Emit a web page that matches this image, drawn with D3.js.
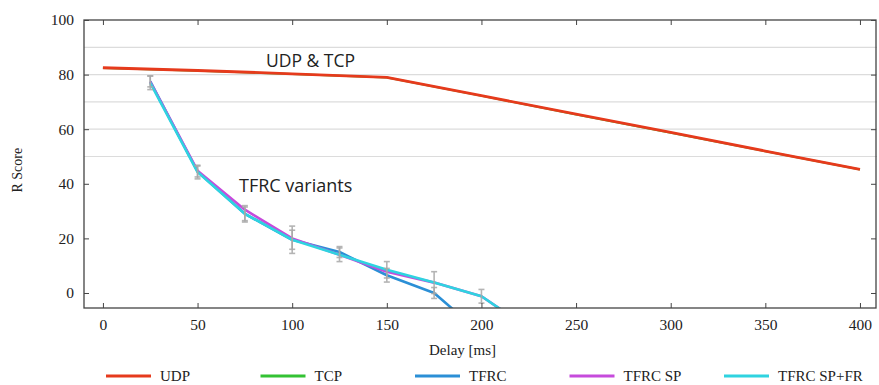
<!DOCTYPE html>
<head>
  <meta charset="utf-8">
  <script src="https://cdn.jsdelivr.net/npm/d3@7"></script>
  <style>
    body { margin: 0; background: #fff; }
    text { font-family: "Liberation Serif", serif; fill: #222; }
  </style>
</head>
<body>
  <script>
    // data
    var udpDelay = [0, 50, 100, 150, 200, 250, 300, 350, 400];
    var udp = [82.5, 81.5, 80.3, 79, 72.3, 65.5, 58.8, 52, 45.3];
    var tcp = [82.4, 81.4, 80.2, 78.9, 72.2, 65.4, 58.7, 51.9, 45.2];

    var tfrcDelay = [25, 50, 75, 100, 125, 150, 175, 200, 225];
    var tfrc = [77.5, 44.5, 29, 19.5, 15, 6.5, 0, -15];
    var tfrcSp = [77.3, 44.8, 30.5, 20, 14, 7.8, 3.8, -1.2, -13];
    var tfrcSpFr = [77, 44.3, 29, 19.5, 14, 8.5, 3.8, -1.2, -13];

    // error bar half widths
    var errSpFr = [2.5, 2.5, 3, 5, 2.5, 3, 4, 2.5];
    var errTfrc = [2, 2, 2.5, 3.5, 2, 2.5, 2];

    var xTicks = [0, 50, 100, 150, 200, 250, 300, 350, 400];
    var yTicks = [0, 20, 40, 60, 80, 100];
    var yGrid = [50, 60, 70, 80, 90];

    var names = ["UDP", "TCP", "TFRC", "TFRC SP", "TFRC SP+FR"];
    var colors = ["#e63a1c", "#33c233", "#2b8fd6", "#c64bdc", "#2fd3e0"];

    var width = 879, height = 385;
    var margin = {top: 20, right: 2, bottom: 77, left: 84};

    var svg = d3.select("body").append("svg")
      .attr("width", width)
      .attr("height", height);

    var x = d3.scaleLinear()
              .domain([-10, 409])
              .range([margin.left, width - margin.right]);

    var y = d3.scaleLinear()
              .domain([-5.5, 100])
              .range([height - margin.bottom, margin.top]);

    svg.append("clipPath").attr("id", "plot")
      .append("rect")
        .attr("x", margin.left).attr("y", margin.top)
        .attr("width", width - margin.right - margin.left)
        .attr("height", height - margin.bottom - margin.top);

    // grid
    svg.selectAll(".grid").data(yGrid)
      .enter().append("line")
        .attr("x1", margin.left).attr("x2", width - margin.right)
        .attr("y1", y).attr("y2", y)
        .attr("stroke", "#dcdcdc").attr("stroke-width", 1.2);

    var plot = svg.append("g").attr("clip-path", "url(#plot)");

    function series(xs, ys) {
      return ys.map(function(v, i) { return [xs[i], v]; });
    }
    var line = d3.line().x(function(d) { return x(d[0]); }).y(function(d) { return y(d[1]); });

    var lines = [
      {d: series(udpDelay, tcp), c: colors[1], w: 2},
      {d: series(udpDelay, udp), c: colors[0], w: 2.8},
      {d: series(tfrcDelay, tfrc), c: colors[2], w: 2.6},
      {d: series(tfrcDelay, tfrcSp), c: colors[3], w: 2.6},
      {d: series(tfrcDelay, tfrcSpFr), c: colors[4], w: 2.6}
    ];

    plot.selectAll(".series").data(lines)
      .enter().append("path")
        .attr("d", function(s) { return line(s.d); })
        .attr("fill", "none")
        .attr("stroke", function(s) { return s.c; })
        .attr("stroke-width", function(s) { return s.w; })
        .attr("stroke-linejoin", "round");

    // error bars
    function errorBars(vals, errs, off) {
      var g = plot.append("g").attr("stroke", "#a8a8a8").attr("stroke-width", 1.6).attr("opacity", 0.85);
      errs.forEach(function(e, i) {
        var cx = x(tfrcDelay[i]) + off;
        g.append("line").attr("x1", cx).attr("x2", cx).attr("y1", y(vals[i] - e)).attr("y2", y(vals[i] + e));
        g.append("line").attr("x1", cx - 3).attr("x2", cx + 3).attr("y1", y(vals[i] - e)).attr("y2", y(vals[i] - e));
        g.append("line").attr("x1", cx - 3).attr("x2", cx + 3).attr("y1", y(vals[i] + e)).attr("y2", y(vals[i] + e));
      });
    }
    errorBars(tfrcSpFr, errSpFr, 0);
    errorBars(tfrc, errTfrc, 0);

    // frame
    svg.append("rect")
      .attr("x", margin.left).attr("y", margin.top)
      .attr("width", width - margin.right - margin.left - 1)
      .attr("height", height - margin.bottom - margin.top)
      .attr("fill", "none").attr("stroke", "#444").attr("stroke-width", 1.3);

    // x axis
    svg.append("g")
        .attr("transform", "translate(0," + (height - margin.bottom) + ")")
        .call(d3.axisBottom(x).tickValues(xTicks).tickSize(-5).tickPadding(11))
        .call(function(g) { g.select(".domain").remove(); })
        .call(function(g) { g.selectAll("text").attr("font-size", 15.5).attr("font-family", "Liberation Serif"); });
    svg.append("g")
        .attr("transform", "translate(0," + margin.top + ")")
        .call(d3.axisTop(x).tickValues(xTicks).tickSize(-5).tickFormat(""))
        .call(function(g) { g.select(".domain").remove(); });

    // y axis
    svg.append("g")
        .attr("transform", "translate(" + margin.left + ",0)")
        .call(d3.axisLeft(y).tickValues(yTicks).tickSize(-5).tickPadding(10))
        .call(function(g) { g.select(".domain").remove(); })
        .call(function(g) { g.selectAll("text").attr("font-size", 15.5).attr("font-family", "Liberation Serif"); });
    svg.append("g")
        .attr("transform", "translate(" + (width - margin.right - 1) + ",0)")
        .call(d3.axisRight(y).tickValues(yTicks).tickSize(-5).tickFormat(""))
        .call(function(g) { g.select(".domain").remove(); });

    svg.selectAll(".tick line").attr("stroke", "#444");

    // axis titles
    svg.append("text")
      .attr("x", x(190)).attr("y", 355)
      .attr("text-anchor", "middle").attr("font-size", 15)
      .text("Delay [ms]");
    svg.append("text")
      .attr("transform", "translate(22," + y(45) + ") rotate(-90)")
      .attr("text-anchor", "middle").attr("font-size", 14)
      .text("R Score");

    // annotations
    svg.append("text")
      .attr("x", 266).attr("y", 67)
      .style("font-family", "'Open Sans', sans-serif").attr("font-size", 17.5)
      .text("UDP & TCP");
    svg.append("text")
      .attr("x", 239).attr("y", 192)
      .style("font-family", "'Open Sans', sans-serif").attr("font-size", 18)
      .text("TFRC variants");

    // legend
    var legend = svg.selectAll(".legend").data(names)
      .enter().append("g")
        .attr("transform", function(d, i) { return "translate(" + (106 + i * 154.5) + ",376)"; });
    legend.append("line")
      .attr("x1", 0).attr("x2", 45)
      .attr("stroke", function(d, i) { return colors[i]; })
      .attr("stroke-width", 3);
    legend.append("text")
      .attr("x", 54).attr("y", 5)
      .attr("font-size", 15)
      .text(function(d) { return d; });
  </script>
</body>
